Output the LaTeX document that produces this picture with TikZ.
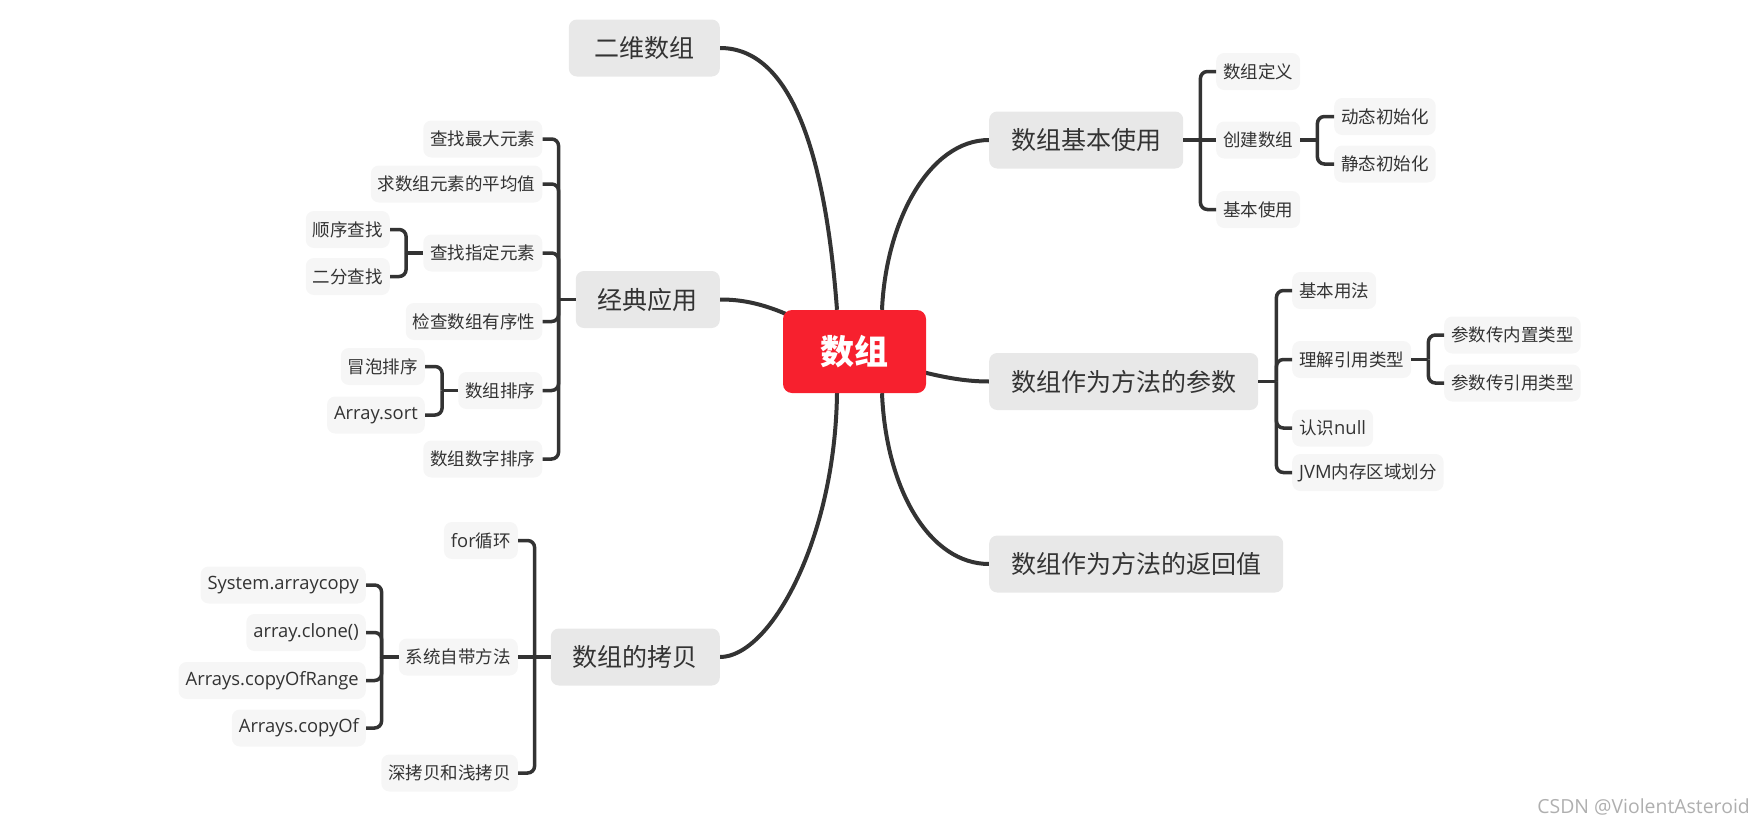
\documentclass[tikz,border=0pt]{standalone}
\usepackage{fontspec}
\newfontfamily\cjk{Noto Sans CJK SC}
\newfontfamily\latfont[Scale=1.05]{Open Sans}
\newcommand\lt[1]{{\latfont #1}}
\usetikzlibrary{backgrounds}

\definecolor{rootred}{RGB}{247,32,46}
\definecolor{linegray}{RGB}{51,51,51}
\definecolor{mainfill}{RGB}{232,232,232}
\definecolor{subfill}{RGB}{246,246,246}
\definecolor{txtgray}{RGB}{51,51,51}
\definecolor{markgray}{RGB}{175,175,175}

\tikzset{
  rootbox/.style={fill=rootred, rounded corners=9pt, minimum width=143pt, minimum height=83pt,
    text=white, font=\cjk\fontsize{34}{40}\selectfont\bfseries},
  mainbox/.style={fill=mainfill, rounded corners=8pt, minimum height=57pt, inner xsep=22pt,
    text=txtgray, font=\cjk\fontsize{25}{30}\selectfont},
  subbox/.style={fill=subfill, rounded corners=8pt, minimum height=37pt, inner xsep=7pt,
    text=txtgray, font=\cjk\fontsize{17.5}{20}\selectfont},
  branch/.style={draw=linegray, line width=4pt},
  bracket/.style={draw=linegray, line width=3.5pt, rounded corners=7pt},
}

\begin{document}
\begin{tikzpicture}[x=1pt,y=-1pt]
\useasboundingbox (0,0) rectangle (1762,827);

% центр
\node[rootbox] (root) at (854.5,351.5) {数组};

% права сторона
\node[mainbox,anchor=west] (basic) at (989,140) {数组基本使用};
\node[mainbox,anchor=west] (param) at (989,381.5) {数组作为方法的参数};
\node[mainbox,anchor=west] (ret) at (989,564) {数组作为方法的返回值};

\node[subbox,anchor=west] (def) at (1216,71.5) {数组定义};
\node[subbox,anchor=west] (create) at (1216,140) {创建数组};
\node[subbox,anchor=west] (use) at (1216,209.5) {基本使用};
\node[subbox,anchor=west] (dyn) at (1334,116.5) {动态初始化};
\node[subbox,anchor=west] (stat) at (1334,164) {静态初始化};

\node[subbox,anchor=west] (usage) at (1292,290.5) {基本用法};
\node[subbox,anchor=west] (ref) at (1292,359.5) {理解引用类型};
\node[subbox,anchor=west] (null) at (1292,428) {认识\lt{null}};
\node[subbox,anchor=west] (jvm) at (1292,472.5) {\lt{JVM}内存区域划分};
\node[subbox,anchor=west] (builtin) at (1444,335) {参数传内置类型};
\node[subbox,anchor=west] (reftype) at (1444,383) {参数传引用类型};

% ліва сторона
\node[mainbox,anchor=east,minimum width=151pt] (twod) at (720,48) {二维数组};
\node[mainbox,anchor=east] (classic) at (720,299.5) {经典应用};
\node[mainbox,anchor=east] (copy) at (720,657) {数组的拷贝};

\node[subbox,anchor=east] (max) at (542.5,139) {查找最大元素};
\node[subbox,anchor=east] (avg) at (542.5,184) {求数组元素的平均值};
\node[subbox,anchor=east] (find) at (542.5,253) {查找指定元素};
\node[subbox,anchor=east] (order) at (542.5,321.5) {检查数组有序性};
\node[subbox,anchor=east] (sort) at (542.5,390.5) {数组排序};
\node[subbox,anchor=east] (numsort) at (542.5,459) {数组数字排序};
\node[subbox,anchor=east] (seq) at (390,229.5) {顺序查找};
\node[subbox,anchor=east] (bin) at (390,276.5) {二分查找};
\node[subbox,anchor=east] (bubble) at (425,366.5) {冒泡排序};
\node[subbox,anchor=east] (asort) at (425,415) {\lt{Array.sort}};

\node[subbox,anchor=east] (forloop) at (518,540.5) {\lt{for}循环};
\node[subbox,anchor=east] (sysm) at (518,657) {系统自带方法};
\node[subbox,anchor=east] (deep) at (518,773) {深拷贝和浅拷贝};
\node[subbox,anchor=east] (sysarr) at (366,585) {\lt{System.arraycopy}};
\node[subbox,anchor=east] (clone) at (366,632.5) {\lt{array.clone()}};
\node[subbox,anchor=east] (range) at (366,680.5) {\lt{Arrays.copyOfRange}};
\node[subbox,anchor=east] (copyof) at (366,728) {\lt{Arrays.copyOf}};

% гілки від центру
\begin{pgfonlayer}{background}
\draw[branch] ([xshift=-17.5pt]root.north) .. controls +(-12,-160) and +(70,0) .. (twod.east);
\draw[branch] (root.center) .. controls +(-70,-45) and +(30,0) .. (classic.east);
\draw[branch] ([xshift=-17.5pt]root.south) .. controls +(-2,147) and +(50,0) .. (copy.east);
\draw[branch] ([xshift=27.5pt]root.north) .. controls +(4,-90) and +(-59,0) .. (basic.west);
\draw[branch] (root.center) .. controls +(70,23.5) and +(-30,0) .. (param.west);
\draw[branch] ([xshift=27.5pt]root.south) .. controls +(4,97) and +(-59,0) .. (ret.west);
\end{pgfonlayer}

% дужки справа
\coordinate (basic-j) at ([xshift=17pt]basic.east);
\draw[bracket] (basic.east) -- (create.west);
\foreach \c in {def,use} \draw[bracket] (basic-j) |- (\c.west);

\coordinate (create-j) at ([xshift=17pt]create.east);
\draw[bracket] (create.east) -- (create-j);
\foreach \c in {dyn,stat} \draw[bracket] (create-j) |- (\c.west);

\coordinate (param-j) at ([xshift=18pt]param.east);
\draw[bracket] (param.east) -- (param-j);
\foreach \c in {usage,ref,null,jvm} \draw[bracket] (param-j) |- (\c.west);

\coordinate (ref-j) at ([xshift=17pt]ref.east);
\draw[bracket] (ref.east) -- (ref-j);
\foreach \c in {builtin,reftype} \draw[bracket] (ref-j) |- (\c.west);

% дужки зліва
\coordinate (classic-j) at ([xshift=-17pt]classic.west);
\draw[bracket] (classic.west) -- (classic-j);
\foreach \c in {max,avg,find,order,sort,numsort} \draw[bracket] (classic-j) |- (\c.east);

\coordinate (find-j) at ([xshift=-17pt]find.west);
\draw[bracket] (find.west) -- (find-j);
\foreach \c in {seq,bin} \draw[bracket] (find-j) |- (\c.east);

\coordinate (sort-j) at ([xshift=-16pt]sort.west);
\draw[bracket] (sort.west) -- (sort-j);
\foreach \c in {bubble,asort} \draw[bracket] (sort-j) |- (\c.east);

\coordinate (copy-j) at ([xshift=-16pt]copy.west);
\draw[bracket] (copy.west) -- (sysm.east);
\foreach \c in {forloop,deep} \draw[bracket] (copy-j) |- (\c.east);

\coordinate (sysm-j) at ([xshift=-17pt]sysm.west);
\draw[bracket] (sysm.west) -- (sysm-j);
\foreach \c in {sysarr,clone,range,copyof} \draw[bracket] (sysm-j) |- (\c.east);

% підпис
\node[anchor=east, inner sep=0pt, text=markgray, font=\latfont\fontsize{18.5}{21}\selectfont] (mark) at (1750,807) {CSDN @ViolentAsteroid};
\end{tikzpicture}
\end{document}
